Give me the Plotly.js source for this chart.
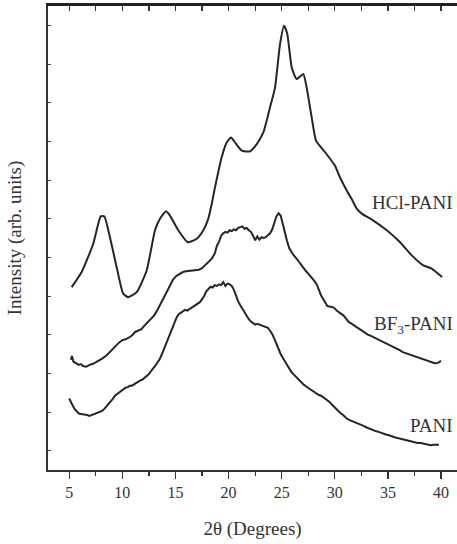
<!DOCTYPE html>
<html>
<head>
<meta charset="utf-8">
<script src="https://cdn.plot.ly/plotly-3.0.1.min.js"></script>
<style>html,body{margin:0;padding:0;background:#fff;}#chart{width:457px;height:544px;}</style>
</head>
<body>
<div id="chart"></div>
<script>
// HCl-PANI (smooth curve)
const hclX = [5.23, 6.17, 7.26, 7.96, 8.30, 8.83, 9.46, 10.08, 10.56, 11.35, 12.29, 13.07, 13.54, 14.11, 14.48, 15.26, 16.15, 17.0, 17.62, 18.09, 18.41, 18.72, 19.35, 19.82, 20.23, 20.6, 21.23, 22.02, 22.65, 23.27, 23.9, 24.37, 24.84, 25.22, 25.53, 25.94, 26.41, 27.03, 27.35, 27.82, 28.23, 29.08, 30.02, 30.41, 31.12, 31.6, 32.06, 32.53, 33.63, 34.89, 36.14, 37.24, 38.33, 39.12, 40.1];
const hclY = [4.23, 4.62, 5.35, 6.06, 6.06, 5.52, 4.75, 4.06, 3.97, 4.10, 4.66, 5.70, 6.00, 6.19, 6.08, 5.70, 5.39, 5.48, 5.70, 6.00, 6.38, 6.81, 7.59, 7.97, 8.10, 7.97, 7.76, 7.74, 7.93, 8.23, 8.88, 9.39, 10.51, 10.99, 10.77, 9.91, 9.61, 9.74, 9.39, 8.62, 8.02, 7.72, 7.37, 7.11, 6.73, 6.50, 6.26, 6.13, 5.95, 5.70, 5.39, 5.05, 4.79, 4.71, 4.49];

// BF3-PANI (noisy curve)
const bfX = [5.15, 5.25, 5.4, 5.6, 5.9, 6.1, 6.3, 6.6, 6.9, 7.2, 7.5, 7.8, 8.1, 8.5, 8.8, 9.1, 9.4, 9.7, 10.0, 10.3, 10.6, 10.9, 11.2, 11.5, 11.8, 12.1, 12.4, 12.7, 13.0, 13.3, 13.6, 13.9, 14.2, 14.5, 14.8, 15.1, 15.4, 15.7, 16.0, 16.3, 16.6, 16.9, 17.2, 17.5, 17.8, 18.1, 18.4, 18.7, 18.9, 19.1, 19.3, 19.5, 19.7, 19.9, 20.1, 20.3, 20.5, 20.7, 20.9, 21.1, 21.3, 21.5, 21.7, 21.9, 22.1, 22.3, 22.5, 22.7, 22.9, 23.1, 23.3, 23.5, 23.7, 23.9, 24.1, 24.3, 24.5, 24.7, 24.9, 25.1, 25.3, 25.5, 25.7, 25.9, 26.1, 26.3, 26.5, 26.7, 26.9, 27.1, 27.3, 27.5, 27.7, 27.9, 28.1, 28.3, 28.5, 28.7, 28.9, 29.1, 29.3, 29.6, 29.9, 30.2, 30.5, 30.8, 31.1, 31.3, 31.6, 31.9, 32.2, 32.5, 32.8, 33.1, 33.4, 33.7, 34.0, 34.3, 34.6, 34.9, 35.2, 35.5, 35.8, 36.1, 36.4, 36.7, 37.0, 37.3, 37.6, 37.9, 38.2, 38.5, 38.8, 39.1, 39.4, 39.7, 40.0];
const bfY = [2.35, 2.45, 2.30, 2.27, 2.22, 2.24, 2.19, 2.17, 2.22, 2.24, 2.29, 2.32, 2.38, 2.46, 2.55, 2.62, 2.72, 2.80, 2.86, 2.88, 2.92, 2.98, 3.07, 3.10, 3.14, 3.24, 3.32, 3.40, 3.50, 3.64, 3.80, 3.96, 4.12, 4.30, 4.44, 4.52, 4.58, 4.62, 4.64, 4.65, 4.66, 4.66, 4.68, 4.72, 4.80, 4.86, 4.96, 5.10, 5.30, 5.40, 5.56, 5.62, 5.66, 5.64, 5.70, 5.68, 5.72, 5.70, 5.76, 5.78, 5.80, 5.74, 5.76, 5.70, 5.66, 5.56, 5.44, 5.54, 5.46, 5.52, 5.50, 5.52, 5.58, 5.62, 5.72, 5.88, 6.06, 6.14, 6.08, 5.86, 5.62, 5.42, 5.24, 5.14, 5.06, 5.00, 4.94, 4.86, 4.78, 4.70, 4.64, 4.58, 4.52, 4.44, 4.38, 4.30, 4.14, 4.02, 3.92, 3.82, 3.74, 3.72, 3.70, 3.62, 3.56, 3.50, 3.40, 3.33, 3.28, 3.22, 3.16, 3.10, 3.05, 3.00, 2.97, 2.93, 2.90, 2.86, 2.81, 2.76, 2.72, 2.68, 2.64, 2.60, 2.55, 2.52, 2.50, 2.47, 2.44, 2.40, 2.36, 2.34, 2.30, 2.28, 2.26, 2.27, 2.32];

// PANI (noisy curve)
const paX = [5.0, 5.15, 5.3, 5.5, 5.7, 5.9, 6.1, 6.3, 6.5, 6.7, 6.9, 7.1, 7.3, 7.5, 7.7, 7.9, 8.1, 8.3, 8.5, 8.7, 8.9, 9.1, 9.3, 9.5, 9.7, 9.9, 10.1, 10.3, 10.5, 10.7, 10.9, 11.1, 11.3, 11.5, 11.7, 11.9, 12.1, 12.3, 12.5, 12.7, 12.9, 13.1, 13.3, 13.5, 13.7, 13.9, 14.1, 14.3, 14.5, 14.7, 14.9, 15.1, 15.3, 15.5, 15.7, 15.9, 16.1, 16.3, 16.5, 16.7, 16.9, 17.1, 17.3, 17.5, 17.7, 17.9, 18.1, 18.3, 18.5, 18.7, 18.9, 19.1, 19.3, 19.5, 19.7, 19.9, 20.1, 20.3, 20.5, 20.7, 20.9, 21.1, 21.3, 21.5, 21.7, 21.9, 22.1, 22.3, 22.5, 22.7, 22.9, 23.1, 23.3, 23.5, 23.7, 23.9, 24.1, 24.3, 24.5, 24.7, 24.9, 25.1, 25.3, 25.5, 25.7, 25.9, 26.1, 26.3, 26.5, 26.7, 26.9, 27.1, 27.3, 27.5, 27.7, 27.9, 28.1, 28.3, 28.5, 28.7, 28.9, 29.1, 29.3, 29.5, 29.7, 29.9, 30.1, 30.3, 30.5, 30.7, 30.9, 31.1, 31.3, 31.5, 31.7, 31.9, 32.1, 32.3, 32.5, 32.7, 33.0, 33.3, 33.6, 33.9, 34.2, 34.5, 34.8, 35.1, 35.4, 35.7, 36.0, 36.3, 36.6, 36.9, 37.2, 37.5, 37.8, 38.1, 38.4, 38.7, 39.0, 39.3, 39.6, 39.8];
const paY = [1.35, 1.25, 1.18, 1.08, 1.02, 0.96, 0.95, 0.94, 0.94, 0.92, 0.90, 0.92, 0.95, 0.96, 0.98, 1.00, 1.03, 1.08, 1.14, 1.22, 1.28, 1.34, 1.42, 1.46, 1.52, 1.56, 1.58, 1.63, 1.64, 1.68, 1.68, 1.72, 1.76, 1.78, 1.82, 1.84, 1.88, 1.93, 1.98, 2.06, 2.12, 2.20, 2.28, 2.36, 2.48, 2.62, 2.76, 2.90, 3.04, 3.18, 3.32, 3.44, 3.53, 3.57, 3.60, 3.64, 3.62, 3.66, 3.70, 3.72, 3.76, 3.80, 3.84, 3.92, 4.00, 4.12, 4.18, 4.24, 4.22, 4.28, 4.26, 4.30, 4.28, 4.36, 4.26, 4.32, 4.30, 4.26, 4.16, 3.98, 3.86, 3.76, 3.66, 3.56, 3.48, 3.40, 3.34, 3.30, 3.26, 3.28, 3.26, 3.25, 3.24, 3.20, 3.18, 3.10, 3.02, 2.90, 2.76, 2.62, 2.50, 2.40, 2.30, 2.20, 2.12, 2.04, 1.98, 1.92, 1.86, 1.80, 1.74, 1.70, 1.66, 1.62, 1.58, 1.55, 1.52, 1.48, 1.44, 1.42, 1.38, 1.36, 1.32, 1.26, 1.20, 1.14, 1.10, 1.04, 0.98, 0.94, 0.88, 0.84, 0.80, 0.78, 0.76, 0.72, 0.70, 0.68, 0.66, 0.64, 0.60, 0.56, 0.54, 0.50, 0.48, 0.44, 0.42, 0.40, 0.36, 0.34, 0.32, 0.30, 0.27, 0.26, 0.24, 0.22, 0.20, 0.20, 0.18, 0.16, 0.14, 0.15, 0.14, 0.15];

const xTicks = [5, 10, 15, 20, 25, 30, 35, 40];
const xTickText = ['5', '10', '15', '20', '25', '30', '35', '40'];
const yTicks = [0, 1, 2, 3, 4, 5, 6, 7, 8, 9, 10, 11];

const lineStyle = {color: '#262626', width: 2};
const serif = 'Liberation Serif, Times New Roman, serif';

const traces = [
  {type: 'scatter', x: hclX, y: hclY, mode: 'lines', line: Object.assign({shape: 'spline', smoothing: 0.5}, lineStyle), hoverinfo: 'skip'},
  {type: 'scatter', x: bfX, y: bfY, mode: 'lines', line: lineStyle, hoverinfo: 'skip'},
  {type: 'scatter', x: paX, y: paY, mode: 'lines', line: lineStyle, hoverinfo: 'skip'},
  {type: 'scatter', x: xTicks, y: xTicks.map(() => yTicks[5]), xaxis: 'x2', yaxis: 'y', mode: 'markers', marker: {size: 1, color: 'rgba(0,0,0,0)'}, hoverinfo: 'skip'}
];

const layout = {
  width: 457, height: 544,
  margin: {l: 48, r: 0, t: 6, b: 74},
  showlegend: false,
  font: {family: serif, color: '#333', size: 16},
  xaxis: {
    range: [3, 41.5], showgrid: false, zeroline: false,
    showline: true, linecolor: '#333', linewidth: 1.5,
    tickmode: 'array', tickvals: xTicks, ticktext: xTickText,
    ticks: 'outside', ticklen: 7, tickwidth: 1.2, tickcolor: '#333',
    minor: {tick0: 5, dtick: 2.5, ticks: 'outside', ticklen: 4, tickwidth: 1.2, tickcolor: '#333'},
    tickfont: {family: serif, size: 16, color: '#333'},
    title: {text: '2θ (Degrees)', font: {family: serif, size: 19, color: '#333'}, standoff: 22}
  },
  xaxis2: {
    overlaying: 'x', side: 'top', anchor: 'y', range: [3, 41.5],
    showgrid: false, zeroline: false,
    showline: true, linecolor: '#222', linewidth: 3,
    tick0: 5, dtick: 2.5, ticks: 'inside', ticklen: 5, tickwidth: 1.2, tickcolor: '#333',
    showticklabels: false
  },
  yaxis: {
    range: [-0.5, 11.5], showgrid: false, zeroline: false,
    showline: true, linecolor: '#333', linewidth: 1.8,
    tickmode: 'array', tickvals: yTicks, ticks: 'inside', ticklen: 3, tickwidth: 1, tickcolor: '#444',
    showticklabels: false,
    title: {text: 'Intensity (arb. units)', font: {family: serif, size: 19, color: '#333'}, standoff: 19}
  },
  annotations: [
    {x: 41.35, y: 6.42, xref: 'x', yref: 'y', text: 'HCl-PANI', showarrow: false, xanchor: 'right', yanchor: 'middle', font: {family: serif, size: 19, color: '#333'}},
    {x: 41.35, y: 3.25, xref: 'x', yref: 'y', text: 'BF<sub>3</sub>-PANI', showarrow: false, xanchor: 'right', yanchor: 'middle', font: {family: serif, size: 19, color: '#333'}},
    {x: 41.35, y: 0.66, xref: 'x', yref: 'y', text: 'PANI', showarrow: false, xanchor: 'right', yanchor: 'middle', font: {family: serif, size: 19, color: '#333'}}
  ]
};

Plotly.newPlot('chart', traces, layout, {displayModeBar: false, staticPlot: true});
</script>
</body>
</html>
